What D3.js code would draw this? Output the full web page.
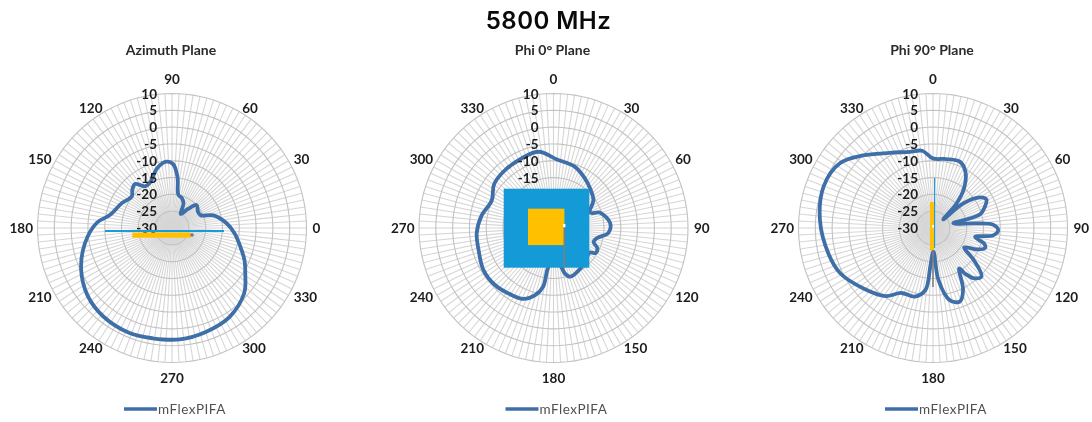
<!DOCTYPE html>
<html><head><meta charset="utf-8">
<script src="https://cdnjs.cloudflare.com/ajax/libs/d3/7.8.5/d3.min.js"></script>
<style>html,body{margin:0;padding:0;background:#fff;overflow:hidden}svg{display:block;filter:blur(0.5px)}</style>
</head><body><svg id="c" width="1092" height="422"></svg>
<script>
const mainTitle = "5800 MHz";
const seriesName = "mFlexPIFA";
const gainTicks = [-30,-25,-20,-15,-10,-5,0,5,10];
const azLabels = [0,30,60,90,120,150,180,210,240,270,300,330];
const phiLabels = [0,30,60,90,120,150,180,210,240,270,300,330];

const azAngles = [5,17,24,32,43,50,58,65,72,79,84,89,95,104,116,123,130,136,142,154,168,176,190,205,219,232,248,260,274,288,303,318,328,336,345,355];
const azGain   = [-13.7,-17.1,-20.7,-20.9,-20,-22.6,-25.1,-21.9,-20.6,-20,-14.6,-11,-10.2,-11.7,-15,-15.2,-12.9,-13.6,-14.8,-13.3,-11.2,-7.6,-3.7,-0.2,2.2,3.3,3.7,3.3,3.2,2.5,1.5,-1.1,-4.3,-6.4,-9,-11.3];

const phi0Angles = [3,19,32,43,55,67,72,85,95,103,109,115,121,124,135,146,161,166,168,178,188,190,195,203,212,226,239,254,266,280,294,306,318,336,349];
const phi0Gain   = [-9.6,-10.7,-12.5,-14,-15.5,-18.2,-15.4,-13.1,-13.6,-16.7,-17.4,-15.6,-15.5,-17,-16.5,-15.6,-14.7,-16.1,-17.7,-21.5,-17.9,-12.3,-9.4,-7.1,-6.5,-5.7,-5.7,-6.8,-7.1,-8.3,-9.9,-8.1,-7.6,-7.2,-6.9];

const phi90Angles = [0,11,22,30,38,44,50,51,57,62,68,74,77,84,87,92,97,102,107,111,116,122,128,135,141,145,147,154,160,167,174,179,184,187,195,206,215,229,244,256,274,291,305,316,330,343,352];
const phi90Gain   = [-9.3,-9.1,-8.7,-10.7,-15,-20,-26,-18.4,-13.3,-12,-13.4,-15.5,-23.8,-16.9,-12,-10.6,-12,-17.2,-14.1,-13.4,-15.5,-19.1,-14.7,-9.6,-10.8,-13.5,-15.7,-9.6,-6.7,-8,-14.4,-23,-18.5,-11.4,-8.9,-8.5,-5.3,-2.6,0.7,2,3.7,4.8,3.7,0,-4.2,-6.3,-6.8];

const GRID = "#c2c2c2", SPOKE = "#d6d6d6", LINE = "#3f6fa8", TXT = "#1c1c1c";
const AMBER = "#ffc000", CYAN = "#1a9ad6", PLATE = "#139ad7", STUB = "#7f7f7f";
const svg = d3.select("#c");
const radius = 134.5, cy = 228;
const r = d3.scaleLinear().domain([-30,10]).range([0,radius]);
const spokes = d3.range(0,360,3);
const TEXTF = "Lato, 'Open Sans', sans-serif";

svg.append("text").attr("x",548.5).attr("y",29).attr("text-anchor","middle")
  .attr("font-family","Inter, sans-serif").attr("font-weight",600).attr("font-size",24)
  .attr("letter-spacing",0.45).attr("fill","#0a0a0a").text(mainTitle);

function polar(cx, title, angles, gain, labels, bearing){
  const g = svg.append("g").attr("transform",`translate(${cx},${cy})`);
  const sin = a=>Math.sin(bearing(a)*Math.PI/180), cos = a=>Math.cos(bearing(a)*Math.PI/180);
  const pt = (a,v)=>[r(v)*sin(a), -r(v)*cos(a)];
  g.selectAll(".s").data(spokes).join("line")
    .attr("x1",0).attr("y1",0)
    .attr("x2",d=>pt(d,10)[0]).attr("y2",d=>pt(d,10)[1])
    .attr("stroke",SPOKE).attr("stroke-width",1.1);
  const ringLine = d3.line().curve(d3.curveLinearClosed);
  g.selectAll(".r").data(gainTicks.slice(1)).join("path")
    .attr("d",v=>ringLine(spokes.map(a=>pt(a,v))))
    .attr("fill","none").attr("stroke",GRID).attr("stroke-width",1.1);
  const pts = angles.map((a,i)=>({a,v:gain[i]})).sort((p,q)=>bearing(p.a)-bearing(q.a));
  const curve = d3.line().curve(d3.curveCatmullRomClosed.alpha(0.5));
  g.append("path").attr("d",curve(pts.map(p=>pt(p.a,p.v))))
    .attr("fill","none").attr("stroke",LINE).attr("stroke-width",3.8).attr("stroke-linejoin","round");
  g.selectAll(".t").data(gainTicks).join("text")
    .attr("x",-15).attr("y",d=>-r(d)+5).attr("text-anchor","end")
    .attr("font-family",TEXTF).attr("font-weight",700).attr("font-size",13.5).attr("fill",TXT)
    .text(d=>d);
  g.selectAll(".l").data(labels).join("text")
    .attr("x",d=>{const s=sin(d); return Math.abs(s)<0.01 ? 0 : (s>0 ? 140.5*s : 139*s);})
    .attr("y",d=>{const c=cos(d); return -(138.5*c + (Math.abs(c)>0.99?11*Math.sign(c):0))+5;})
    .attr("text-anchor",d=>{const s=sin(d); return Math.abs(s)<0.01 ? "middle" : (s>0 ? "start" : "end");})
    .attr("font-family",TEXTF).attr("font-weight",700).attr("font-size",13.5).attr("fill",TXT)
    .text(d=>d);
  svg.append("text").attr("x",cx-1).attr("y",55).attr("text-anchor","middle")
    .attr("font-family",TEXTF).attr("font-weight",700).attr("font-size",14).attr("fill","#2a2a2a").text(title);
  svg.append("line").attr("x1",cx-48).attr("x2",cx-15).attr("y1",409).attr("y2",409)
    .attr("stroke",LINE).attr("stroke-width",3.6);
  svg.append("text").attr("x",cx-14).attr("y",414).attr("font-family",TEXTF).attr("font-size",13.5)
    .attr("letter-spacing",0.5).attr("fill","#505050").text(seriesName);
}
const ccwFromRight = a => (90 - a + 720) % 360;
const cwFromTop = a => a;
polar(172,"Azimuth Plane",azAngles,azGain,azLabels,ccwFromRight);
polar(553.5,"Phi 0° Plane",phi0Angles,phi0Gain,phiLabels,cwFromTop);
polar(933,"Phi 90° Plane",phi90Angles,phi90Gain,phiLabels,cwFromTop);

// antenna sketches over the plots
svg.append("rect").attr("x",132.3).attr("y",232.5).attr("width",58.4).attr("height",5.2).attr("fill",AMBER);
svg.append("circle").attr("cx",192).attr("cy",235).attr("r",1.8).attr("fill","#777");
svg.append("line").attr("x1",105).attr("x2",224).attr("y1",231).attr("y2",231).attr("stroke",CYAN).attr("stroke-width",2);

svg.append("rect").attr("x",503.7).attr("y",188.7).attr("width",85.6).attr("height",79).attr("fill",PLATE);
svg.append("rect").attr("x",528).attr("y",208.7).attr("width",36.4).attr("height",36.4).attr("fill",AMBER);
svg.append("line").attr("x1",564.3).attr("x2",564.3).attr("y1",224).attr("y2",268).attr("stroke",STUB).attr("stroke-width",1.6);
svg.append("rect").attr("x",563).attr("y",224).attr("width",2.4).attr("height",3.2).attr("fill","#fff");

svg.append("line").attr("x1",933).attr("x2",933).attr("y1",250).attr("y2",287).attr("stroke",STUB).attr("stroke-width",1.6);
svg.append("rect").attr("x",930).attr("y",202).attr("width",3.9).attr("height",48).attr("fill",AMBER);
svg.append("line").attr("x1",934.6).attr("x2",934.6).attr("y1",178).attr("y2",248).attr("stroke",CYAN).attr("stroke-width",1.1);
svg.append("rect").attr("x",932).attr("y",225).attr("width",2).attr("height",2.6).attr("fill","#fff");
</script></body></html>
